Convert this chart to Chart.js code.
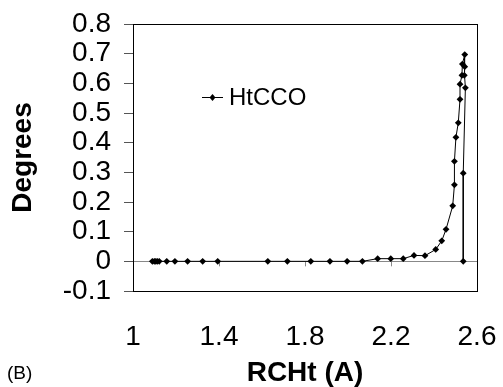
<!DOCTYPE html>
<html>
<head>
<meta charset="utf-8">
<script src="https://cdn.jsdelivr.net/npm/chart.js@4/dist/chart.umd.min.js"></script>
<style>
  html, body { margin: 0; padding: 0; background: #fff; }
  #wrap { width: 503px; height: 387px; }
</style>
</head>
<body>
<div id="wrap"><canvas id="mainChart" width="503" height="387"></canvas></div>
<script>
// valores
const rcht = [1.090, 1.099, 1.106, 1.113, 1.122, 1.157, 1.195, 1.254, 1.324, 1.394,
  1.627, 1.718, 1.827, 1.916, 1.996, 2.067, 2.138, 2.199, 2.257, 2.307,
  2.358, 2.408, 2.436, 2.456, 2.487, 2.495, 2.495, 2.502, 2.513, 2.521,
  2.521, 2.530, 2.532, 2.543, 2.543, 2.541, 2.546, 2.536, 2.536];
const degrees = [0, 0, 0, 0, 0, 0, 0, 0, 0, 0,
  0, 0, 0, 0, 0, 0, 0.009, 0.009, 0.009, 0.020,
  0.019, 0.040, 0.069, 0.108, 0.187, 0.258, 0.337, 0.418, 0.467, 0.546,
  0.597, 0.627, 0.665, 0.697, 0.656, 0.627, 0.585, 0.297, 0];
const xTicks = [1, 1.4, 1.8, 2.2, 2.6];
const yTicks = [-0.1, 0, 0.1, 0.2, 0.3, 0.4, 0.5, 0.6, 0.7, 0.8];
const serie = 'HtCCO';
const panel = '(B)';

const fuente = '"Liberation Sans", Arial, sans-serif';
const puntos = rcht.map((x, i) => ({ x: x, y: degrees[i] }));
const etiqueta = v => String(Math.round(v * 10) / 10);

const extras = {
  id: 'extras',
  beforeDatasetsDraw(chart) {
    const { ctx, scales } = chart;
    const y0 = scales.y.getPixelForValue(0);
    ctx.save();
    // marcas del eje x sobre la linea cero
    ctx.strokeStyle = '#888';
    ctx.lineWidth = 1;
    xTicks.forEach(v => {
      const px = Math.round(scales.x.getPixelForValue(v)) + 0.5;
      ctx.beginPath();
      ctx.moveTo(px, y0);
      ctx.lineTo(px, y0 + 5);
      ctx.stroke();
    });
    ctx.restore();
  },
  afterDraw(chart) {
    const { ctx, chartArea: a } = chart;
    ctx.save();
    ctx.strokeStyle = '#000';
    ctx.lineWidth = 1;
    ctx.strokeRect(Math.round(a.left) + 0.5, Math.round(a.top) + 0.5,
      Math.round(a.right - a.left), Math.round(a.bottom - a.top));
    // leyenda
    const ly = 97;
    ctx.beginPath();
    ctx.moveTo(202, ly + 0.5);
    ctx.lineTo(223, ly + 0.5);
    ctx.stroke();
    ctx.fillStyle = '#000';
    ctx.beginPath();
    ctx.moveTo(212.5, ly - 3);
    ctx.lineTo(215.5, ly + 0.5);
    ctx.lineTo(212.5, ly + 4);
    ctx.lineTo(209.5, ly + 0.5);
    ctx.closePath();
    ctx.fill();
    ctx.font = '24px ' + fuente;
    ctx.textBaseline = 'middle';
    ctx.fillText(serie, 229, ly + 1);
    // etiqueta del panel
    ctx.font = '19px ' + fuente;
    ctx.fillText(panel, 7, 374);
    ctx.restore();
  }
};

new Chart(document.getElementById('mainChart').getContext('2d'), {
  type: 'scatter',
  data: {
    datasets: [{
      label: serie,
      data: puntos,
      showLine: true,
      borderColor: '#000',
      borderWidth: 1,
      backgroundColor: '#000',
      pointStyle: 'rectRot',
      pointRadius: 3.4,
      pointBorderWidth: 0,
      tension: 0
    }]
  },
  options: {
    responsive: false,
    animation: false,
    layout: { padding: { left: 0, right: 26, top: 24, bottom: 0 } },
    plugins: { legend: { display: false }, tooltip: { enabled: false } },
    scales: {
      x: {
        type: 'linear', min: 1, max: 2.6,
        afterBuildTicks: s => { s.ticks = xTicks.map(v => ({ value: v })); },
        afterFit: s => { s.height = 96; s.paddingLeft = 0; s.paddingRight = 0; },
        grid: { display: false, drawTicks: false },
        border: { display: true, color: '#000' },
        ticks: { color: '#000', padding: 29, maxRotation: 0, autoSkip: false,
          font: { family: fuente, size: 28 }, callback: etiqueta },
        title: { display: true, text: 'RCHt (A)', color: '#000', padding: 0,
          font: { family: fuente, size: 28, weight: 'bold', lineHeight: 1 } }
      },
      y: {
        type: 'linear', min: -0.1, max: 0.8,
        afterBuildTicks: s => { s.ticks = yTicks.map(v => ({ value: v })); },
        afterFit: s => { s.width = 133; s.paddingTop = 0; s.paddingBottom = 0; },
        grid: {
          drawOnChartArea: true, drawTicks: true, tickLength: 9,
          color: c => (c.tick && c.tick.value === 0) ? '#888' : 'rgba(0,0,0,0)',
          tickColor: '#555'
        },
        border: { display: true, color: '#000' },
        ticks: { color: '#000', padding: 13, autoSkip: false,
          font: { family: fuente, size: 28, lineHeight: 1 }, callback: etiqueta },
        title: { display: true, text: 'Degrees', color: '#000', padding: { top: 6, bottom: 0 },
          font: { family: fuente, size: 28, weight: 'bold' } }
      }
    }
  },
  plugins: [extras]
});
</script>
</body>
</html>
